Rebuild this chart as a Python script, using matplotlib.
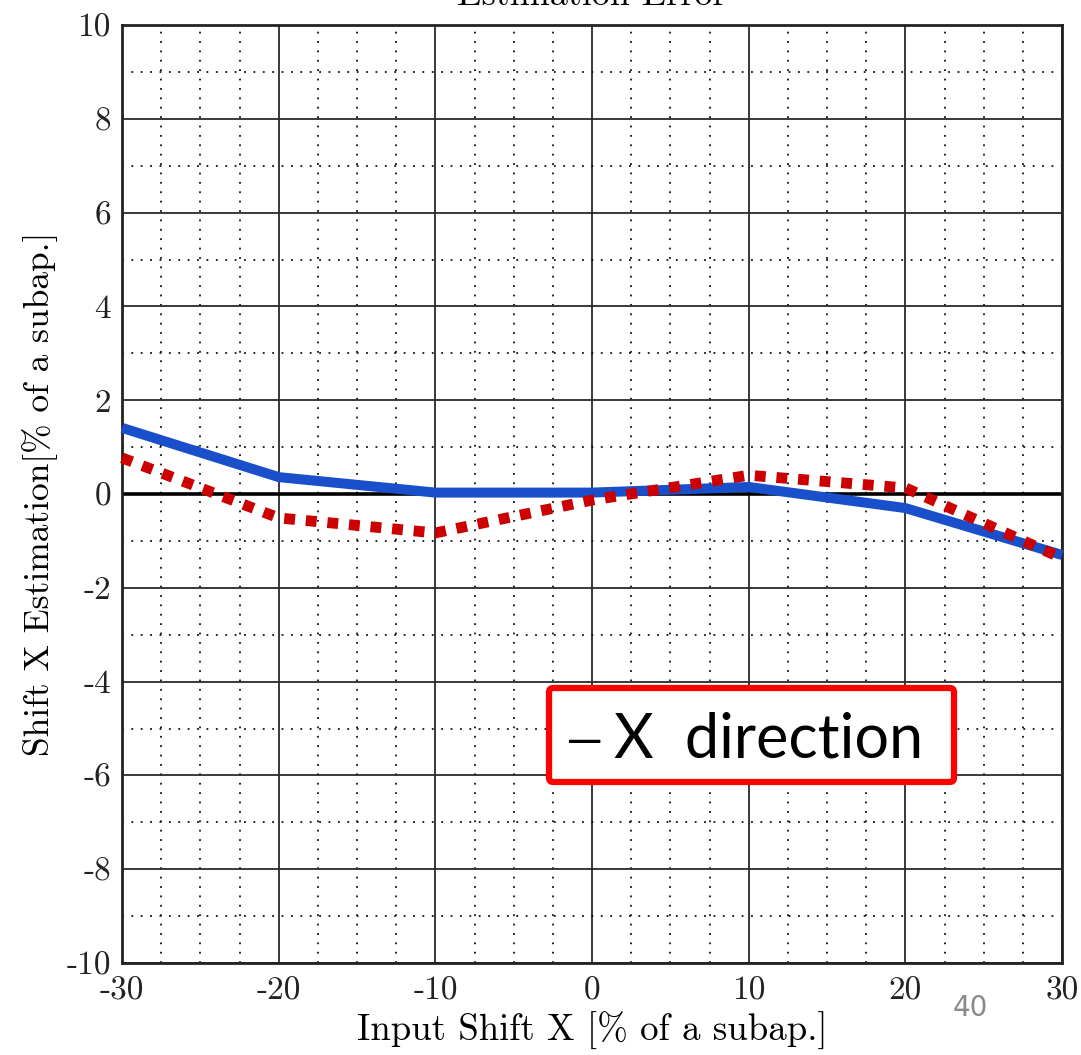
import matplotlib
matplotlib.use("Agg")
import matplotlib.pyplot as plt
from matplotlib.patches import FancyBboxPatch
from matplotlib.ticker import MultipleLocator

# Input shifts and estimation errors (% of a subaperture)
shift_x = [-30, -20, -10, 0, 10, 20, 30]
error_solid = [1.41, 0.36, 0.03, 0.03, 0.15, -0.30, -1.30]
error_dotted = [0.77, -0.51, -0.83, -0.13, 0.40, 0.13, -1.37]

x_ticks = [-30, -20, -10, 0, 10, 20, 30]
y_ticks = [-10, -8, -6, -4, -2, 0, 2, 4, 6, 8, 10]

plt.rcParams["font.family"] = "cmr10"
plt.rcParams["axes.unicode_minus"] = False
plt.rcParams["mathtext.fontset"] = "cm"

fig = plt.figure(figsize=(10.81, 10.55), dpi=100)
ax = fig.add_axes([0.1129, 0.0872, 0.8696, 0.8891])

ax.set_xlim(-30, 30)
ax.set_ylim(-10, 10)
ax.set_xticks(x_ticks)
ax.set_yticks(y_ticks)
ax.set_xticklabels([str(v) for v in x_ticks])
ax.set_yticklabels([str(v) for v in y_ticks])
ax.xaxis.set_minor_locator(MultipleLocator(2.5))
ax.yaxis.set_minor_locator(MultipleLocator(1))

ax.grid(which="major", color="#2a2a2a", linewidth=1.3, linestyle="-")
ax.grid(which="minor", color="#111111", linewidth=1.3, linestyle=(0, (1, 4.2)))
ax.set_axisbelow(True)

ax.tick_params(which="both", direction="in", length=0, labelsize=24, colors="#222222")
ax.tick_params(axis="x", pad=10)
ax.tick_params(axis="y", pad=8)
for s in ax.spines.values():
    s.set_linewidth(2.0)
    s.set_color("#222222")

ax.axhline(0, color="black", linewidth=2.6, zorder=2)

ax.plot(shift_x, error_solid, color="#1a4fcc", linewidth=7.2, solid_capstyle="butt",
        zorder=3, clip_on=False)
ax.plot(shift_x, error_dotted, color="#cc0000", linewidth=7.8, linestyle=(0, (1.0, 1.0)),
        dash_capstyle="butt", zorder=4, clip_on=False)

ax.set_xlabel("Input Shift X [% of a subap.]", fontsize=26.5, labelpad=4)
ax.set_ylabel("Shift X Estimation[% of a subap.]", fontsize=25.5, labelpad=6)

fig.text(0.5476, 0.9955, "Estimation Error", fontsize=26, ha="center", va="baseline")

# annotation box
box = FancyBboxPatch((549 / 1081, 1 - 782 / 1055), 405 / 1081, 94 / 1055,
                     boxstyle="round,pad=0,rounding_size=0.004", transform=fig.transFigure,
                     facecolor="white", edgecolor="#ff0000", linewidth=4.5, zorder=10)
fig.patches.append(box)
fig.text(585 / 1081, 1 - 742 / 1055, "\u2014", fontsize=34,
         family="Lato", ha="center", va="center", zorder=11)
fig.text(614 / 1081, 1 - 740 / 1055, "X  direction", fontsize=44,
         family="Lato", ha="left", va="center", zorder=11)

fig.text(970 / 1081, 1 - 1008 / 1055, "40", fontsize=20, family="DejaVu Sans",
         color="#8a8a8a", ha="center", va="center")

fig.savefig("out.png", dpi=100)
